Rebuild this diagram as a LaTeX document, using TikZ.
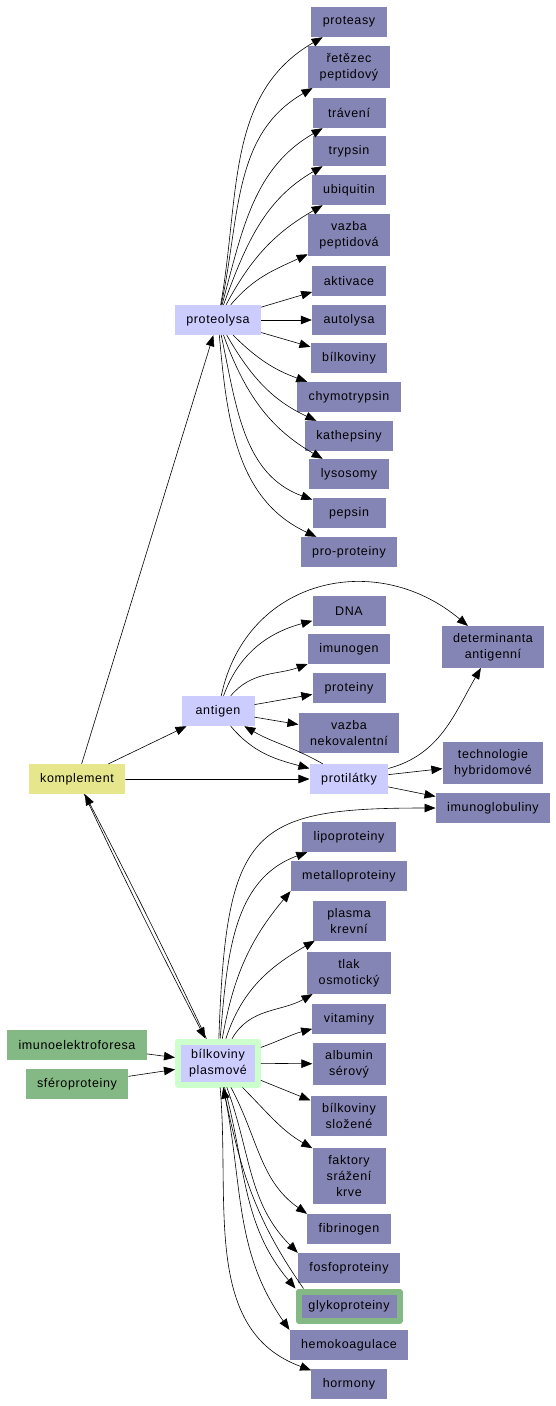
\documentclass[tikz,border=0pt]{standalone}
\usepackage{fontspec}
\setmainfont[LetterSpace=5]{Liberation Sans}
\usetikzlibrary{arrows.meta}
\definecolor{termfill}{RGB}{133,133,181}
\definecolor{hubfill}{RGB}{204,204,255}
\definecolor{rootfill}{RGB}{230,230,140}
\definecolor{srcfill}{RGB}{132,184,132}
\definecolor{halofill}{RGB}{204,255,204}
\tikzset{
  term/.style={fill=termfill,minimum width=73pt,minimum height=30pt,inner xsep=11.5pt,inner ysep=7pt,align=center,font=\fontsize{12.5}{16}\selectfont},
  hub/.style={term,fill=hubfill},
  root/.style={term,fill=rootfill},
  src/.style={term,fill=srcfill},
  link/.style={->,line width=0.6pt},
}
\begin{document}
\begin{tikzpicture}[line cap=round,line join=round,>={Triangle[length=11pt,width=8.5pt]},x=1pt,y=-1pt]
\useasboundingbox (0,0) rectangle (556,1406);
% proteolysa
\node [hub] (proteolysa) at (218,320) {proteolysa};
\node [term] (proteasy) at (349,22) {proteasy};
\node [term] (retezec) at (349,67) {řetězec\\peptidový};
\node [term] (traveni) at (349,113) {trávení};
\node [term] (trypsin) at (349,151) {trypsin};
\node [term] (ubiquitin) at (349,190) {ubiquitin};
\node [term] (vazbapep) at (349,235) {vazba\\peptidová};
\node [term] (aktivace) at (349,281) {aktivace};
\node [term] (autolysa) at (349,320) {autolysa};
\node [term] (bilkoviny) at (349,358) {bílkoviny};
\node [term] (chymotrypsin) at (349,397) {chymotrypsin};
\node [term] (kathepsiny) at (349,436) {kathepsiny};
\node [term] (lysosomy) at (349,474) {lysosomy};
\node [term] (pepsin) at (349,513) {pepsin};
\node [term] (proproteiny) at (349,552) {pro-proteiny};
% antigen, protilatky
\node [root] (komplement) at (77,779) {komplement};
\node [hub] (antigen) at (218,711) {antigen};
\node [hub] (protilatky) at (349,779) {protilátky};
\node [term] (dna) at (349,611) {DNA};
\node [term] (imunogen) at (349,649) {imunogen};
\node [term] (proteiny) at (349,688) {proteiny};
\node [term] (vazbanekov) at (349,733) {vazba\\nekovalentní};
\node [term] (determinanta) at (493,647) {determinanta\\antigenní};
\node [term] (technologie) at (493,763) {technologie\\hybridomové};
\node [term] (imunoglobuliny) at (493,808) {imunoglobuliny};
% bilkoviny plasmove
\node [hub,draw=halofill,line width=6pt,minimum width=80pt,minimum height=43pt,inner xsep=9pt] (bplasm) at (218,1063) {bílkoviny\\plasmové};
\node [src] (imunoel) at (77,1045) {imunoelektroforesa};
\node [src] (sfero) at (77,1084) {sféroproteiny};
\node [term] (lipo) at (349,837) {lipoproteiny};
\node [term] (metallo) at (349,876) {metalloproteiny};
\node [term] (plasma) at (349,921) {plasma\\krevní};
\node [term] (tlak) at (349,973) {tlak\\osmotický};
\node [term] (vitaminy) at (349,1019) {vitaminy};
\node [term] (albumin) at (349,1064) {albumin\\sérový};
\node [term] (slozene) at (349,1116) {bílkoviny\\složené};
\node [term] (faktory) at (349,1176) {faktory\\srážení\\krve};
\node [term] (fibrinogen) at (349,1229) {fibrinogen};
\node [term] (fosfo) at (349,1268) {fosfoproteiny};
\node [term,draw=srcfill,line width=6pt,minimum width=101pt,minimum height=29pt,inner xsep=9pt,inner ysep=3pt] (glyko) at (349,1306) {glykoproteiny};
\node [term] (hemo) at (349,1345) {hemokoagulace};
\node [term] (hormony) at (349,1384) {hormony};
% connectors
\begin{scope}[every path/.style={link}]
\draw (proteolysa) to[out=80,in=210] (proteasy);
\draw (proteolysa) to[out=78,in=210] (retezec);
\draw (proteolysa) to[out=75,in=210] (traveni);
\draw (proteolysa) to[out=70,in=210] (trypsin);
\draw (proteolysa) to[out=62,in=210] (ubiquitin);
\draw (proteolysa) to[out=50,in=205] (vazbapep);
\draw (proteolysa)-- (aktivace);
\draw (proteolysa)-- (autolysa);
\draw (proteolysa)-- (bilkoviny);
\draw (proteolysa) to[out=-45,in=160] (chymotrypsin);
\draw (proteolysa) to[out=-60,in=155] (kathepsiny);
\draw (proteolysa) to[out=-70,in=150] (lysosomy);
\draw (proteolysa) to[out=-78,in=160] (pepsin);
\draw (proteolysa) to[out=-85,in=155] (proproteiny);
\draw (komplement)-- (proteolysa);
\draw (komplement)-- (antigen);
\draw (komplement)-- (protilatky);
\draw (komplement) to[bend right=1] (bplasm);
\draw (bplasm) to[bend right=1] (komplement);
\draw (antigen) to[out=70,in=195] (dna);
\draw (antigen) to[out=50,in=200] (imunogen);
\draw (antigen)-- (proteiny);
\draw (antigen)-- (vazbanekov);
\draw (antigen) to[out=78,in=140,looseness=1.2] (determinanta);
\draw (antigen) to[out=-50,in=165] (protilatky);
\draw (protilatky) to[out=150,in=-30] (antigen);
\draw (protilatky) to[out=15,in=-120] (determinanta);
\draw (protilatky)-- (technologie);
\draw (protilatky)-- (imunoglobuliny);
\draw (bplasm) to[out=88,in=180,out looseness=1.7,in looseness=1.5] (imunoglobuliny);
\draw (bplasm) to[out=85,in=200] (lipo);
\draw (bplasm) to[out=80,in=230] (metallo.south west);
\draw (bplasm) to[out=72,in=210] (plasma);
\draw (bplasm) to[out=60,in=210] (tlak);
\draw (bplasm) to[out=20,in=195] (vitaminy);
\draw (bplasm)-- (albumin);
\draw (bplasm)-- (slozene);
\draw (bplasm) to[out=-45,in=150] (faktory.north west);
\draw (bplasm) to[out=-62,in=145] (fibrinogen.north west);
\draw (bplasm) to[out=-70,in=135] (fosfo.north west);
\draw (bplasm) to[out=-75,in=130] (glyko.north west);
\draw ([xshift=8pt]glyko.north west) to[out=125,in=-78] (bplasm);
\draw (bplasm) to[out=-78,in=125] (hemo.north west);
\draw (bplasm) to[out=-85,in=160] (hormony);
\draw (imunoel)-- (bplasm);
\draw (sfero)-- (bplasm);
\end{scope}
\end{tikzpicture}
\end{document}
